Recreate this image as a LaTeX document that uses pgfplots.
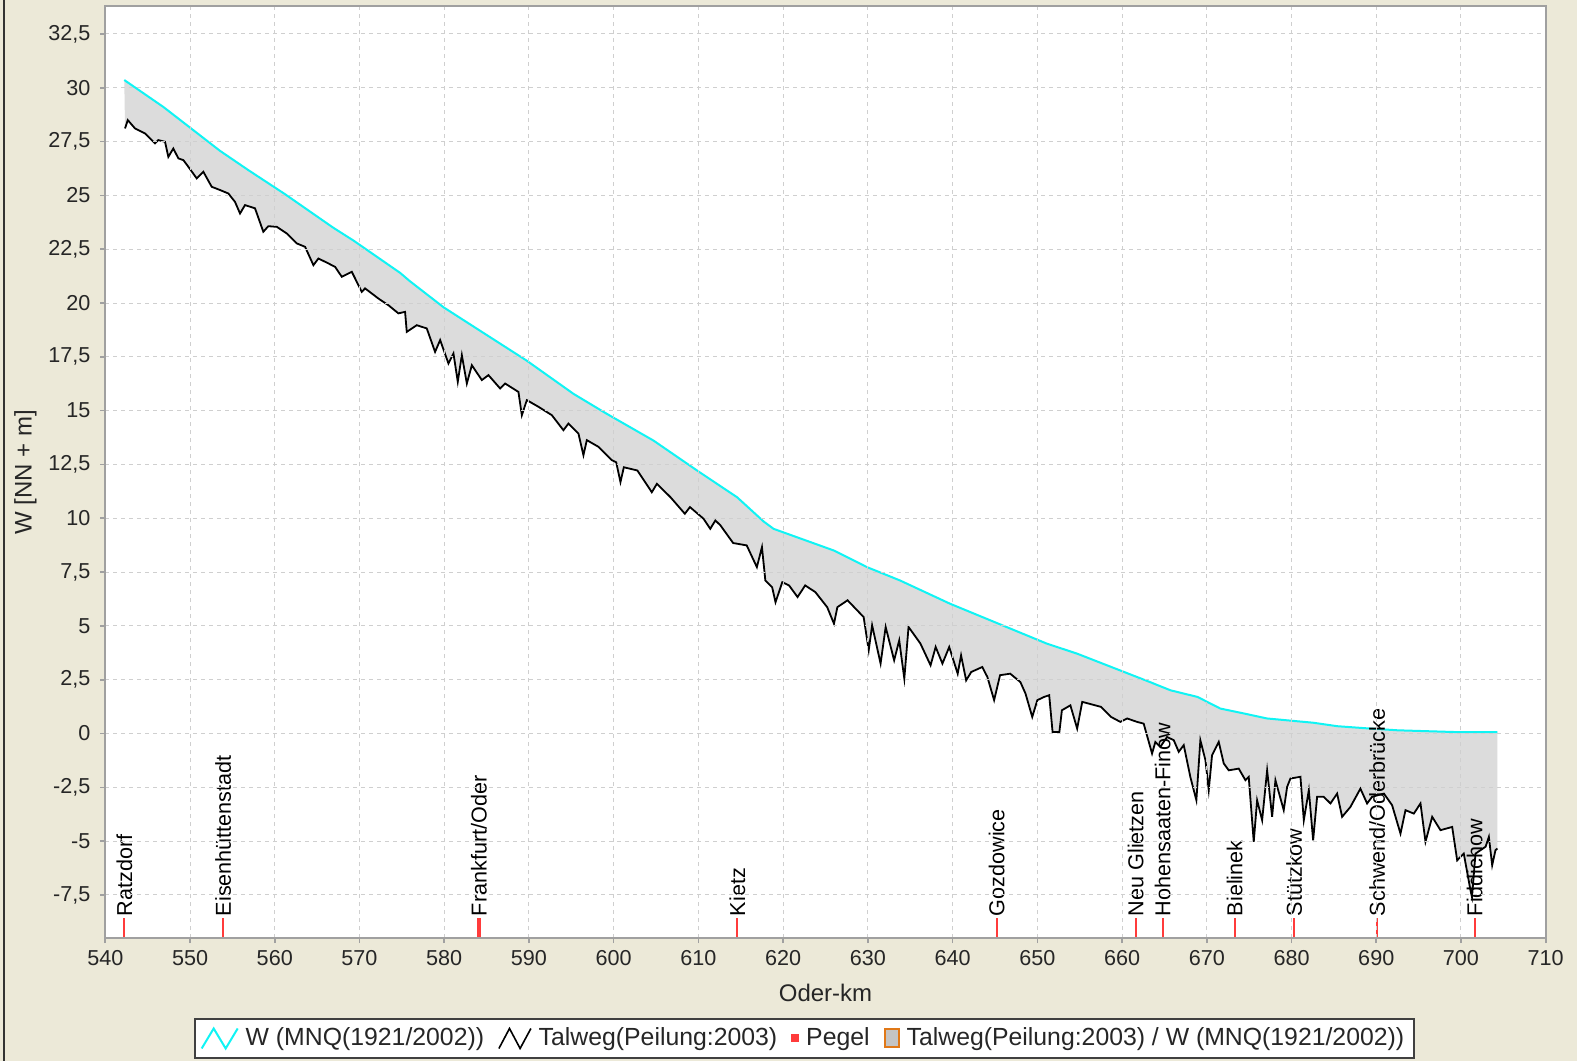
\documentclass[border=0pt]{standalone}
\usepackage{fontspec}
\setmainfont{Liberation Sans}
\usepackage{pgfplots}
\pgfplotsset{compat=1.18}
\usepgfplotslibrary{fillbetween}

\definecolor{bg}{HTML}{ECE9D8}
\definecolor{wcyan}{HTML}{10F4F4}
\definecolor{areagray}{HTML}{DCDCDC}
\definecolor{gridgray}{HTML}{CFCFCF}
\definecolor{framegray}{HTML}{A0A0A0}
\definecolor{pegelred}{HTML}{FF3B3B}
\definecolor{boxorange}{HTML}{E07818}
\definecolor{boxgray}{HTML}{C4C4C4}

% Talweg (Peilung 2003)
\pgfplotstableread{
km     h
542.33 28.11
542.65 28.5
543.51 28.11
544.69 27.88
545.87 27.42
546.26 27.57
547.05 27.49
547.44 26.79
548.03 27.18
548.62 26.72
549.21 26.64
549.8  26.33
550.79 25.79
551.57 26.1
552.56 25.4
553.54 25.25
554.52 25.09
555.31 24.7
555.9  24.16
556.49 24.55
557.67 24.4
558.65 23.31
559.24 23.57
560.24 23.54
561.42 23.23
562.6  22.77
563.58 22.61
564.56 21.76
565.15 22.07
566.33 21.84
567.12 21.68
567.91 21.22
569.09 21.45
570.27 20.52
570.66 20.68
572.23 20.21
573.41 19.9
574.59 19.52
575.38 19.59
575.58 18.66
576.76 18.97
577.94 18.82
578.92 17.73
579.52 18.28
580.5  17.19
581.09 17.66
581.6  16.34
582.08 17.58
582.67 16.26
583.26 17.11
584.44 16.42
585.22 16.65
586.6  16.03
587.19 16.26
588.76 15.87
589.16 14.79
589.75 15.49
591.12 15.18
592.7  14.79
594.07 14.09
594.66 14.4
595.84 13.94
596.43 12.93
596.83 13.63
598.2  13.32
598.99 13.01
599.78 12.7
600.3  12.6
600.8  11.68
601.2  12.37
602.8  12.22
604.5  11.21
605.1  11.6
606.7  10.98
608.4  10.21
609.0  10.52
610.6  9.98
611.4  9.51
612.0  9.9
612.6  9.67
614.1  8.85
615.7  8.74
616.9  7.73
617.5  8.66
617.9  7.11
618.7  6.8
619.1  6.1
619.9  7.03
620.7  6.88
621.7  6.34
622.6  6.88
623.8  6.57
625.2  5.87
626.0  5.1
626.4  5.87
627.6  6.19
629.5  5.41
630.1  3.87
630.5  5.03
631.5  3.25
632.1  4.95
633.1  3.4
633.7  4.33
634.3  2.55
634.8  4.95
636.2  4.18
637.4  3.17
638.0  4.02
638.8  3.25
639.6  4.02
640.6  2.78
641.0  3.63
641.6  2.47
642.2  2.86
643.5  3.09
644.1  2.63
644.9  1.55
645.6  2.71
646.8  2.78
648.0  2.39
648.6  1.86
649.4  0.77
650.0  1.55
650.8  1.70
651.4  1.78
651.8  0.07
652.6  0.07
652.9  1.08
653.9  1.31
654.7  0.23
655.3  1.47
657.5  1.24
658.7  0.77
659.8  0.54
660.6  0.70
661.77 0.54
662.55 0.46
663.54 -0.93
663.93 -0.39
664.52 -0.62
665.31 -0.16
666.1  -0.31
666.69 -0.85
667.28 -0.54
668.06 -2.02
668.77 -3.1
669.24 -0.31
669.84 -1.24
670.23 -2.63
670.62 -1.01
671.41 -0.39
672.0  -1.39
672.59 -1.71
673.77 -1.63
674.56 -2.17
674.95 -2.02
675.54 -5.03
675.94 -3.1
676.53 -4.03
677.12 -1.71
677.71 -3.87
678.1  -2.17
679.08 -3.56
679.48 -2.48
679.87 -2.09
681.05 -2.01
681.45 -4.03
682.04 -2.63
682.55 -4.96
683.02 -2.94
683.8  -2.94
684.6  -3.25
685.38 -2.79
685.97 -3.87
686.95 -3.41
688.13 -2.56
688.92 -3.25
689.51 -2.94
690.9  -2.79
691.87 -3.33
692.86 -4.65
693.45 -3.56
694.43 -3.72
695.22 -3.25
695.81 -5.03
696.6  -3.87
697.58 -4.49
698.96 -4.34
699.55 -5.89
700.33 -5.58
701.12 -7.28
701.3  -7.6
701.71 -5.58
702.9  -5.26
703.29 -4.80
703.68 -6.12
704.07 -5.42
704.3  -5.34
}\talweg

% W (MNQ 1921/2002)
\pgfplotstableread{
km     h
542.24 30.36
546.85 29.11
550.0  28.15
553.54 27.07
556.9  26.17
561.2  25.06
566.9  23.5
569.3  22.9
574.8  21.4
575.9  21.03
579.93 19.80
584.24 18.71
589.75 17.32
595.26 15.78
599.2  14.85
604.7  13.61
609.84 12.22
614.56 10.98
617.7  9.85
618.87 9.51
626.0  8.5
629.9  7.73
633.8  7.11
639.7  6.03
651.1  4.18
654.7  3.71
663.3  2.39
665.7  2.01
668.9  1.70
671.6  1.16
674.4  0.93
677.1  0.70
682.6  0.50
685.4  0.34
689.3  0.23
692.5  0.15
699.2  0.07
704.3  0.06
}\wmnq

\begin{document}
\begin{tikzpicture}
\begin{axis}[
    set layers, axis on top,
    clip=false,
    scale only axis,
    width=720.2pt, height=466pt,
    xmin=540, xmax=710,
    ymin=-9.5, ymax=33.8,
    xtick={540,550,...,710},
    ytick={-7.5,-5,...,32.5},
    axis line style={draw=framegray, line width=1pt},
    tick style={draw=framegray, line width=0.8pt},
    major tick length=2.5pt,
    tick align=outside,
    xtick pos=lower, ytick pos=left,
    grid=major,
    major grid style={draw=gridgray, line width=0.5pt, dash pattern=on 2pt off 2pt},
    ticklabel style={font=\fontsize{10.8}{12}\selectfont, text=black!85},
    yticklabel style={xshift=-1.4pt},
    /pgf/number format/.cd, use comma, 1000 sep={}, assume math mode=true,
    /pgfplots/.cd,
    xlabel={Oder-km},
    ylabel={W [NN + m]},
    label style={font=\fontsize{12}{14}\selectfont, text=black!85},
    xlabel style={at={(axis description cs:0.5,-0.059)}, anchor=center},
    ylabel style={at={(axis description cs:-0.0555,0.5)}, anchor=center},
    legend columns=-1,
    legend style={at={(axis description cs:0.4854,-0.1078)}, anchor=center,
        draw=black!75, line width=1pt, fill=white,
        font=\fontsize{12.4}{14}\selectfont, text=black!85,
        inner xsep=3pt, inner ysep=2.5pt,
        /tikz/every odd column/.append style={column sep=1.5pt},
        /tikz/every even column/.append style={column sep=5pt}},
]

% window background and white plot area, lowest layer
\begin{pgfonlayer}{axis background}
\fill[bg] (axis description cs:-0.07311,-0.13197) rectangle (axis description cs:1.02173,1.00644);
\fill[black!80] (axis description cs:-0.07137,-0.13197) rectangle (axis description cs:-0.06929,1.00644);
\fill[white] (axis description cs:0,0) rectangle (axis description cs:1,1);
\end{pgfonlayer}

\addplot[name path=T, draw=none, forget plot] table[x=km, y=h] {\talweg};
\addplot[name path=W, draw=none, forget plot] table[x=km, y=h] {\wmnq};
\addplot[fill=areagray, draw=none, forget plot] fill between[of=W and T];

\addplot[draw=wcyan, line width=1pt, forget plot] table[x=km, y=h] {\wmnq};
\addplot[draw=black, line width=0.9pt, forget plot] table[x=km, y=h] {\talweg};

% Pegel markers
\addplot[draw=pegelred, line width=1pt, unbounded coords=jump, forget plot] coordinates {
(542.25,-9.5) (542.25,-8.55) (542.25,nan)
(553.9,-9.5) (553.9,-8.55) (553.9,nan)
(583.95,-9.5) (583.95,-8.55) (583.95,nan)
(584.25,-9.5) (584.25,-8.55) (584.25,nan)
(614.6,-9.5) (614.6,-8.55) (614.6,nan)
(645.2,-9.5) (645.2,-8.55) (645.2,nan)
(661.6,-9.5) (661.6,-8.55) (661.6,nan)
(664.8,-9.5) (664.8,-8.55) (664.8,nan)
(673.3,-9.5) (673.3,-8.55) (673.3,nan)
(680.3,-9.5) (680.3,-8.55) (680.3,nan)
(690.1,-9.5) (690.1,-8.55) (690.1,nan)
(701.6,-9.5) (701.6,-8.55)
};
\addplot[draw=none, mark=none, forget plot, point meta=explicit symbolic,
    nodes near coords,
    nodes near coords style={rotate=90, anchor=west, inner sep=0pt,
        font=\fontsize{10.8}{12}\selectfont, text=black}] coordinates {
(542.25,-8.5) [Ratzdorf]
(553.9,-8.5) [Eisenhüttenstadt]
(584.1,-8.5) [Frankfurt/Oder]
(614.6,-8.5) [Kietz]
(645.2,-8.5) [Gozdowice]
(661.6,-8.5) [Neu Glietzen]
(664.8,-8.5) [Hohensaaten-Finow]
(673.3,-8.5) [Bielinek]
(680.3,-8.5) [Stützkow]
(690.1,-8.5) [Schwend/Oderbrücke]
(701.6,-8.5) [Fiddichow]
};

\addlegendimage{legend image code/.code={\draw[wcyan, line width=1pt, line join=miter]
    (0pt,-5pt) -- (6pt,5pt) -- (12pt,-5pt) -- (18pt,5pt);}}
\addlegendentry{W (MNQ(1921/2002))}
\addlegendimage{legend image code/.code={\draw[black, line width=0.8pt, line join=miter]
    (0pt,-5pt) -- (5.3pt,5pt) -- (10.6pt,-5pt) -- (16pt,5pt);}}
\addlegendentry{Talweg(Peilung:2003)}
\addlegendimage{legend image code/.code={\fill[pegelred] (0pt,-1.5pt) rectangle (3pt,1.5pt);}}
\addlegendentry{Pegel}
\addlegendimage{legend image code/.code={\filldraw[draw=boxorange, fill=boxgray, line width=1pt]
    (0pt,-4.5pt) rectangle (7pt,4.5pt);}}
\addlegendentry{Talweg(Peilung:2003) / W (MNQ(1921/2002))}
\end{axis}
\pgfresetboundingbox
\path[use as bounding box] (-52.65pt,-61.5pt) rectangle (735.85pt,469pt);
\end{tikzpicture}
\end{document}
